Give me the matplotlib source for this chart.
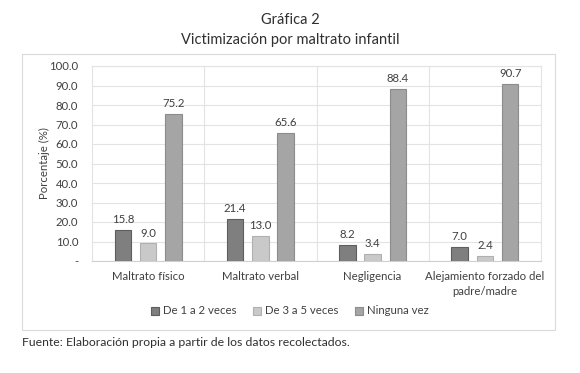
import numpy as np
import matplotlib.pyplot as plt
from matplotlib.patches import Rectangle

# Datos de la gráfica
categorias = ["Maltrato físico", "Maltrato verbal", "Negligencia",
              "Alejamiento forzado del\npadre/madre"]
series = ["De 1 a 2 veces", "De 3 a 5 veces", "Ninguna vez"]
de_1_a_2 = [15.8, 21.4, 8.2, 7.0]
de_3_a_5 = [9.0, 13.0, 3.4, 2.4]
ninguna = [75.2, 65.6, 88.4, 90.7]
yticks = [0, 10, 20, 30, 40, 50, 60, 70, 80, 90, 100]

colores = ["#7f7f7f", "#c9c9c9", "#a5a5a5"]
bordes = ["#5e5e5e", "#b0b0b0", "#8c8c8c"]

plt.rcParams['font.family'] = ['Lato', 'DejaVu Sans']
texto = "#404040"
fs = 8.2

fig = plt.figure(figsize=(5.8, 3.73), dpi=100)
W, H = 580, 373
ax = fig.add_axes([92 / W, 1 - 261 / H, (541 - 92) / W, (261 - 66) / H])

x = np.arange(len(categorias))
ancho = 0.145
desp = 0.225
for i, valores in enumerate([de_1_a_2, de_3_a_5, ninguna]):
    barras = ax.bar(x + (i - 1) * desp, valores, ancho, color=colores[i],
                    edgecolor=bordes[i], linewidth=0.8, label=series[i], zorder=3)
    for b, v in zip(barras, valores):
        ax.text(b.get_x() + b.get_width() / 2, v + 2.5, f"{v:.1f}",
                ha="center", va="bottom", fontsize=fs, color=texto)

ax.set_xlim(-0.5, len(categorias) - 0.5)
ax.set_ylim(0, 100)
ax.set_yticks(yticks)
ax.set_yticklabels(["-"] + [f"{v:.1f}" for v in yticks[1:]])
ax.set_xticks(x)
ax.set_xticklabels(categorias, fontsize=fs, color=texto, linespacing=1.5)
ax.set_xticks(np.arange(0.5, len(categorias) - 0.5, 1), minor=True)
ax.tick_params(axis="y", labelsize=fs, labelcolor=texto, length=0, pad=10)
ax.tick_params(axis="x", which="both", length=0, pad=7)
ax.grid(axis="y", color="#e3e3e3", linewidth=0.8, zorder=0)
ax.grid(axis="x", which="minor", color="#e3e3e3", linewidth=0.8, zorder=0)
for s in ax.spines.values():
    s.set_color("#e3e3e3")
    s.set_linewidth(0.8)
ax.spines["bottom"].set_color("#d0d0d0")

ax.set_ylabel("Porcentaje (%)", fontsize=fs, color=texto, labelpad=-1)

fig.text(290 / W, 1 - 20 / H, "Gráfica 2", ha="center", va="center",
         fontsize=10.5, color="#303030")
fig.text(290 / W, 1 - 40 / H, "Victimización por maltrato infantil",
         ha="center", va="center", fontsize=10.5, color="#303030")

fig.legend(loc="center", bbox_to_anchor=(290 / W, 1 - 311 / H), ncol=3,
           frameon=False, fontsize=fs, handlelength=0.7, handleheight=0.7,
           handletextpad=0.4, columnspacing=1.4, labelcolor=texto)

fig.patches.append(Rectangle((22 / W, 1 - 330 / H), (555 - 22) / W, (330 - 54) / H,
                             transform=fig.transFigure, fill=False,
                             edgecolor="#dadada", linewidth=0.8))

fig.text(22 / W, 1 - 343 / H, "Fuente: Elaboración propia a partir de los datos recolectados.",
         ha="left", va="center", fontsize=8.8, color="#303030")

fig.savefig("out.png", dpi=100)
